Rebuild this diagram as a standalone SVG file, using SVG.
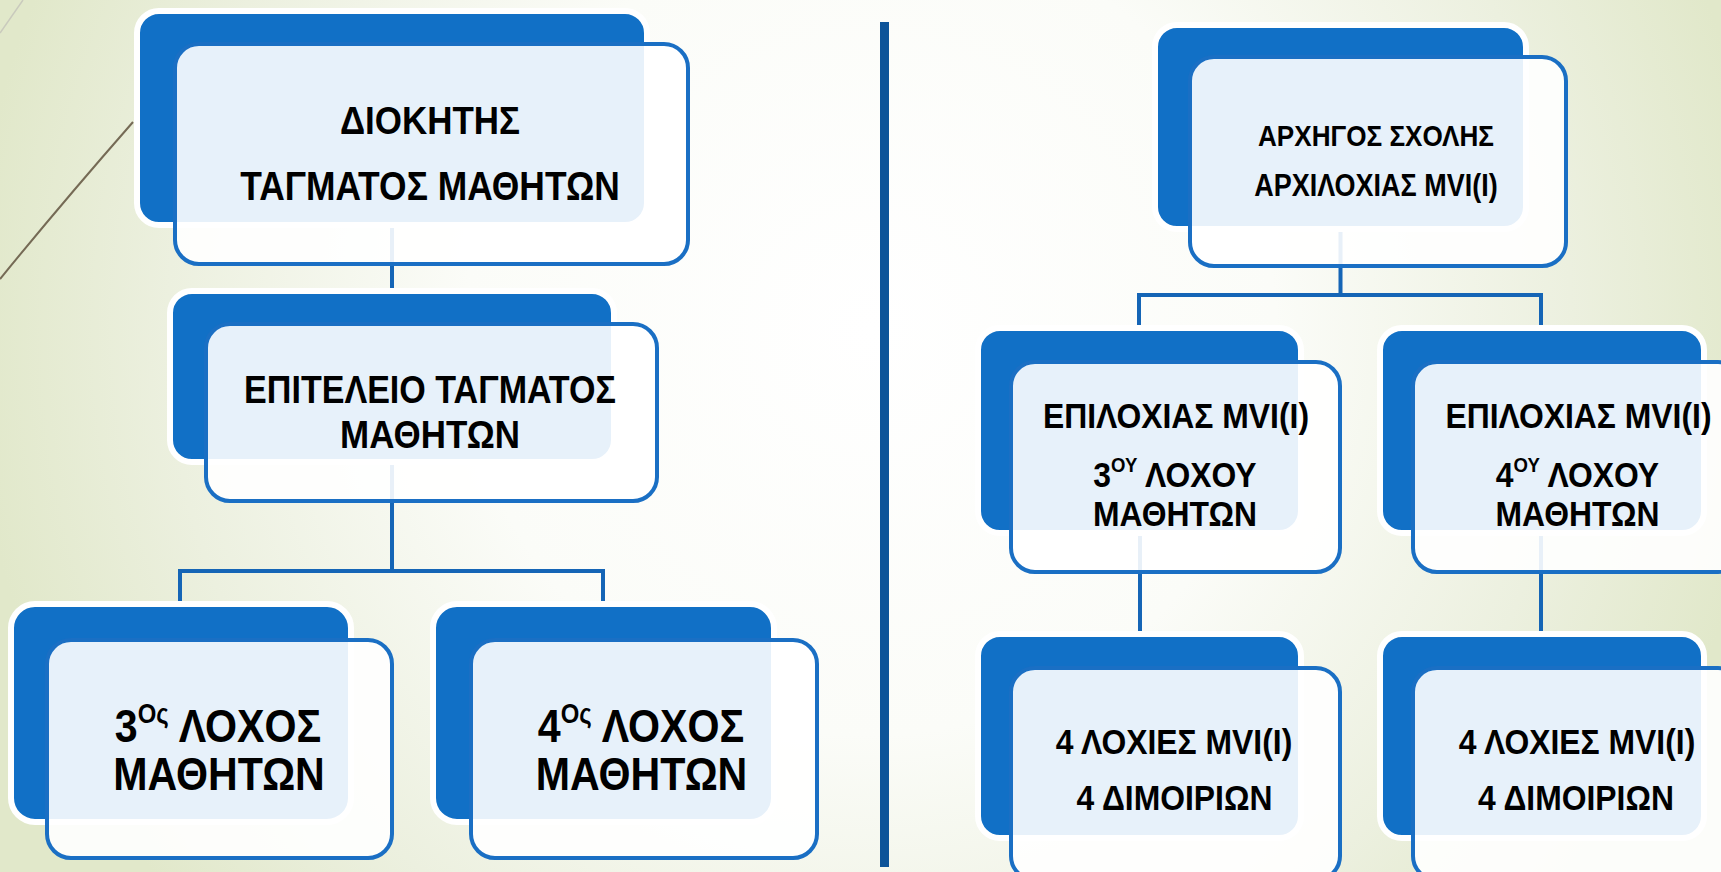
<svg xmlns="http://www.w3.org/2000/svg" width="1721" height="872" viewBox="0 0 1721 872">
<defs>
<radialGradient id="bg" gradientUnits="userSpaceOnUse" cx="870" cy="330" r="900">
<stop offset="0" stop-color="#ffffff"/>
<stop offset="0.45" stop-color="#fbfcf8"/>
<stop offset="0.78" stop-color="#ecf0df"/>
<stop offset="1" stop-color="#e1e8ca"/>
</radialGradient>
<style>
.dk{fill:#1170c6;stroke:#ffffff;stroke-width:6}
.lt{fill:#ffffff;fill-opacity:0.9;stroke:#1a6fc4;stroke-width:4}
.cn{fill:none;stroke:#1565b6;stroke-width:4}
.t{font-family:"Liberation Sans",Arial,sans-serif;font-weight:bold;fill:#000;text-anchor:middle}
</style>
</defs>
<rect x="0" y="0" width="1721" height="872" fill="url(#bg)"/>
<path d="M0,279 Q62,203 133,122" fill="none" stroke="#756a55" stroke-width="2"/>
<path d="M0,33 L23,0" fill="none" stroke="#c9cabd" stroke-width="1.5"/>
<rect x="880" y="22" width="9" height="845" fill="#0d5499"/>

<g id="connectors">
<path class="cn" d="M392,225 V291"/>
<path class="cn" d="M392,462 V571 M180,604 V571 H603 V604"/>
<path class="cn" d="M1340.5,229 V295 M1139,328 V295 H1541 V328"/>
<path class="cn" d="M1140,533 V634"/>
<path class="cn" d="M1541,533 V634"/>
</g>

<g id="nodeA">
<rect class="dk" x="137" y="11" width="510" height="214" rx="22"/>
<rect class="lt" x="175" y="44" width="513" height="220" rx="24"/>
<text class="t" transform="translate(430,134) scale(0.885,1)" font-size="39.5">ΔΙΟΚΗΤΗΣ</text>
<text class="t" transform="translate(430,200) scale(0.885,1)" font-size="40">ΤΑΓΜΑΤΟΣ ΜΑΘΗΤΩΝ</text>
</g>

<g id="nodeB">
<rect class="dk" x="170" y="291" width="444" height="171" rx="22"/>
<rect class="lt" x="206" y="324" width="451" height="177" rx="24"/>
<text class="t" transform="translate(430,403) scale(0.885,1)" font-size="38.5">ΕΠΙΤΕΛΕΙΟ ΤΑΓΜΑΤΟΣ</text>
<text class="t" transform="translate(430,448) scale(0.885,1)" font-size="39.5">ΜΑΘΗΤΩΝ</text>
</g>

<g id="nodeC">
<rect class="dk" x="11" y="604" width="340" height="218" rx="24"/>
<rect class="lt" x="47" y="640" width="345" height="218" rx="24"/>
<text class="t" transform="translate(218,742) scale(0.885,1)" font-size="46.5">3<tspan font-size="27" dy="-19">Ος</tspan><tspan dy="19"> ΛΟΧΟΣ</tspan></text>
<text class="t" transform="translate(219,790) scale(0.885,1)" font-size="46.5">ΜΑΘΗΤΩΝ</text>
</g>

<g id="nodeD">
<rect class="dk" x="433" y="604" width="341" height="218" rx="24"/>
<rect class="lt" x="471" y="640" width="346" height="218" rx="24"/>
<text class="t" transform="translate(641,742) scale(0.885,1)" font-size="46.5">4<tspan font-size="27" dy="-19">Ος</tspan><tspan dy="19"> ΛΟΧΟΣ</tspan></text>
<text class="t" transform="translate(641.5,790) scale(0.885,1)" font-size="46.5">ΜΑΘΗΤΩΝ</text>
</g>

<g id="nodeE">
<rect class="dk" x="1155" y="25" width="371" height="204" rx="22"/>
<rect class="lt" x="1190" y="57" width="376" height="209" rx="24"/>
<text class="t" transform="translate(1376,146) scale(0.885,1)" font-size="29.5">ΑΡΧΗΓΟΣ ΣΧΟΛΗΣ</text>
<text class="t" transform="translate(1376,196) scale(0.885,1)" font-size="30.5">ΑΡΧΙΛΟΧΙΑΣ ΜVI(Ι)</text>
</g>

<g id="nodeF">
<rect class="dk" x="978" y="328" width="323" height="205" rx="22"/>
<rect class="lt" x="1011" y="362" width="329" height="210" rx="24"/>
<text class="t" transform="translate(1176,428) scale(0.885,1)" font-size="36">ΕΠΙΛΟΧΙΑΣ ΜVI(Ι)</text>
<text class="t" transform="translate(1175,487) scale(0.885,1)" font-size="36">3<tspan font-size="21" dy="-15">ΟΥ</tspan><tspan dy="15"> ΛΟΧΟΥ</tspan></text>
<text class="t" transform="translate(1175,526) scale(0.885,1)" font-size="36">ΜΑΘΗΤΩΝ</text>
</g>

<g id="nodeG">
<rect class="dk" x="1380" y="328" width="324" height="205" rx="22"/>
<rect class="lt" x="1413" y="362" width="329" height="210" rx="24"/>
<text class="t" transform="translate(1578.5,428) scale(0.885,1)" font-size="36">ΕΠΙΛΟΧΙΑΣ ΜVI(Ι)</text>
<text class="t" transform="translate(1577.5,487) scale(0.885,1)" font-size="36">4<tspan font-size="21" dy="-15">ΟΥ</tspan><tspan dy="15"> ΛΟΧΟΥ</tspan></text>
<text class="t" transform="translate(1577.5,526) scale(0.885,1)" font-size="36">ΜΑΘΗΤΩΝ</text>
</g>

<g id="nodeH">
<rect class="dk" x="978" y="634" width="323" height="204" rx="22"/>
<rect class="lt" x="1011" y="668" width="329" height="212" rx="24"/>
<text class="t" transform="translate(1174,754) scale(0.885,1)" font-size="36">4 ΛΟΧΙΕΣ ΜVI(Ι)</text>
<text class="t" transform="translate(1174.5,810) scale(0.885,1)" font-size="36">4 ΔΙΜΟΙΡΙΩΝ</text>
</g>

<g id="nodeI">
<rect class="dk" x="1380" y="634" width="324" height="204" rx="22"/>
<rect class="lt" x="1413" y="668" width="329" height="212" rx="24"/>
<text class="t" transform="translate(1577,754) scale(0.885,1)" font-size="36">4 ΛΟΧΙΕΣ ΜVI(Ι)</text>
<text class="t" transform="translate(1576,810) scale(0.885,1)" font-size="36">4 ΔΙΜΟΙΡΙΩΝ</text>
</g>
</svg>
